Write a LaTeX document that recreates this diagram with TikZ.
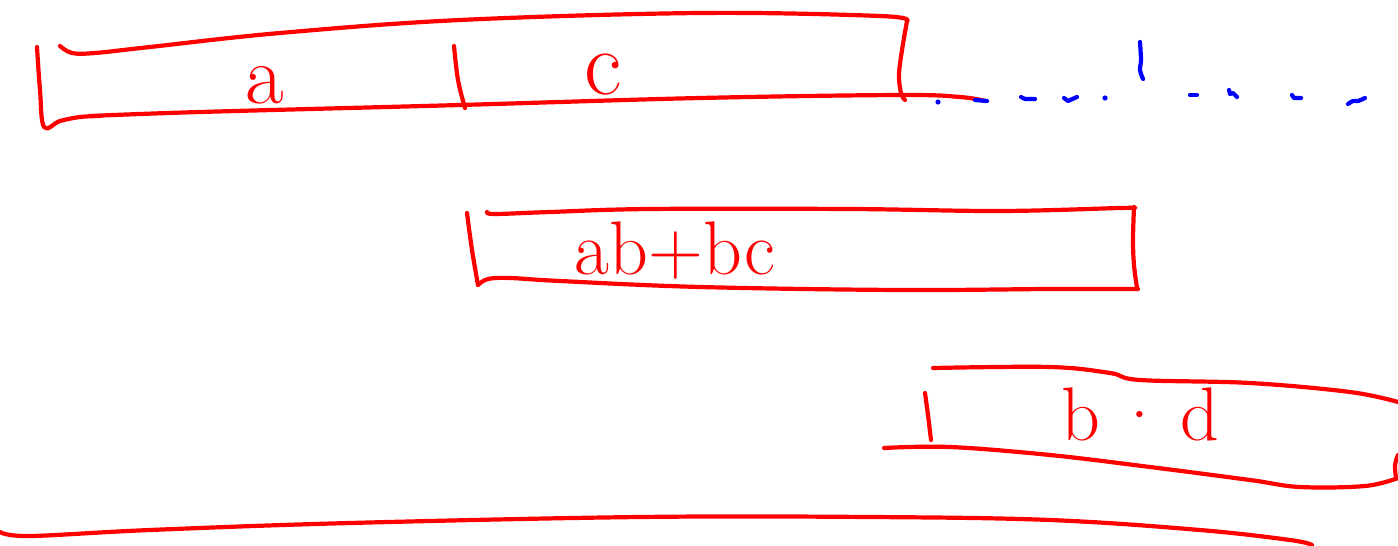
\documentclass[tikz,border=0pt]{standalone}
\begin{document}
\begin{tikzpicture}[x=1pt,y=-1pt,
  pen/.style={draw=red,line width=4.2pt,line cap=round,line join=round},
  bpen/.style={draw=blue,line width=4.2pt,line cap=round,line join=round},
  lbl/.style={text=red,inner sep=0pt,anchor=base}]
\useasboundingbox (0,0) rectangle (1398,546);
% ---------- top box ----------
\draw[pen] plot[smooth,tension=0.6] coordinates {(37,47) (40,90) (44,127) (60,121) (80,117) (100,116)};
\draw[pen] plot[smooth,tension=0.6] coordinates {(90,116) (200,112) (460,105) (700,98) (900,95) (960,97) (985,101)};
\draw[pen] plot[smooth,tension=0.6] coordinates {(60,46) (72,53) (95,53) (150,47) (280,33) (460,20) (700,13) (880,16) (907,21)};
\draw[pen] plot[smooth,tension=0.6] coordinates {(907,21) (902,50) (899,75) (901,93) (905,100)};
\draw[pen] plot[smooth,tension=0.6] coordinates {(454,46) (458,80) (465,108)};
\node[lbl,font=\fontsize{84}{84}\selectfont] (a) at (265,103) {a};
\node[lbl,font=\fontsize{92}{92}\selectfont] (c) at (603,94) {c};
% ---------- blue dotted continuation ----------
\fill[blue] (938,102) circle (2.6);
\draw[bpen] (975,100) -- (987,101);
\draw[bpen] (1021,97) -- (1025,99) -- (1035,99);
\draw[bpen] (1064,98) -- (1068,101) -- (1077,97);
\fill[blue] (1105,98) circle (2.6);
\draw[bpen] plot[smooth] coordinates {(1140,42) (1141,60) (1140,70) (1143,79)};
\draw[bpen] (1190,95) -- (1197,95);
\draw[bpen] (1229,90) -- (1230,94) -- (1233,93) -- (1237,97);
\draw[bpen] (1292,95) -- (1294,98) -- (1301,98);
\draw[bpen] plot[smooth] coordinates {(1348,104) (1353,101) (1358,101) (1365,98)};
% ---------- middle box ----------
\draw[pen] plot[smooth,tension=0.6] coordinates {(467,213) (472,250) (478,285)};
\draw[pen] plot[smooth,tension=0.6] coordinates {(478,285) (488,279) (510,278) (560,281) (700,287) (900,290) (1050,289) (1138,289)};
\draw[pen] plot[smooth,tension=0.6] coordinates {(487,212) (495,214) (550,212) (650,209) (850,209) (1000,211) (1120,208) (1134,208)};
\draw[pen] plot[smooth,tension=0.6] coordinates {(1134,207) (1133,240) (1134,265) (1137,288)};
\node[lbl,font=\fontsize{76}{76}\selectfont] (abbc) at (675,274) {ab+bc};
% ---------- bottom box ----------
\draw[pen] plot[smooth,tension=0.6] coordinates {(933,368) (1050,367) (1110,373) (1140,380) (1250,383) (1350,392) (1398,402)};
\draw[pen] plot[smooth,tension=0.6] coordinates {(925,393) (928,415) (931,440)};
\draw[pen] plot[smooth,tension=0.6] coordinates {(884,448) (950,447) (1050,455) (1150,467) (1250,480) (1300,487) (1365,486) (1398,478)};
\draw[pen] plot[smooth,tension=0.6] coordinates {(1398,455) (1395,465) (1396,478)};
\node[lbl,font=\fontsize{76}{76}\selectfont] (bd) at (1140,440) {b\,\textperiodcentered\,d};
% ---------- bottom long line ----------
\draw[pen] plot[smooth,tension=0.6] coordinates {(0,532) (30,536) (150,530) (350,523) (640,517) (870,517) (1050,520) (1200,530) (1290,540) (1312,545)};
\end{tikzpicture}
\end{document}
